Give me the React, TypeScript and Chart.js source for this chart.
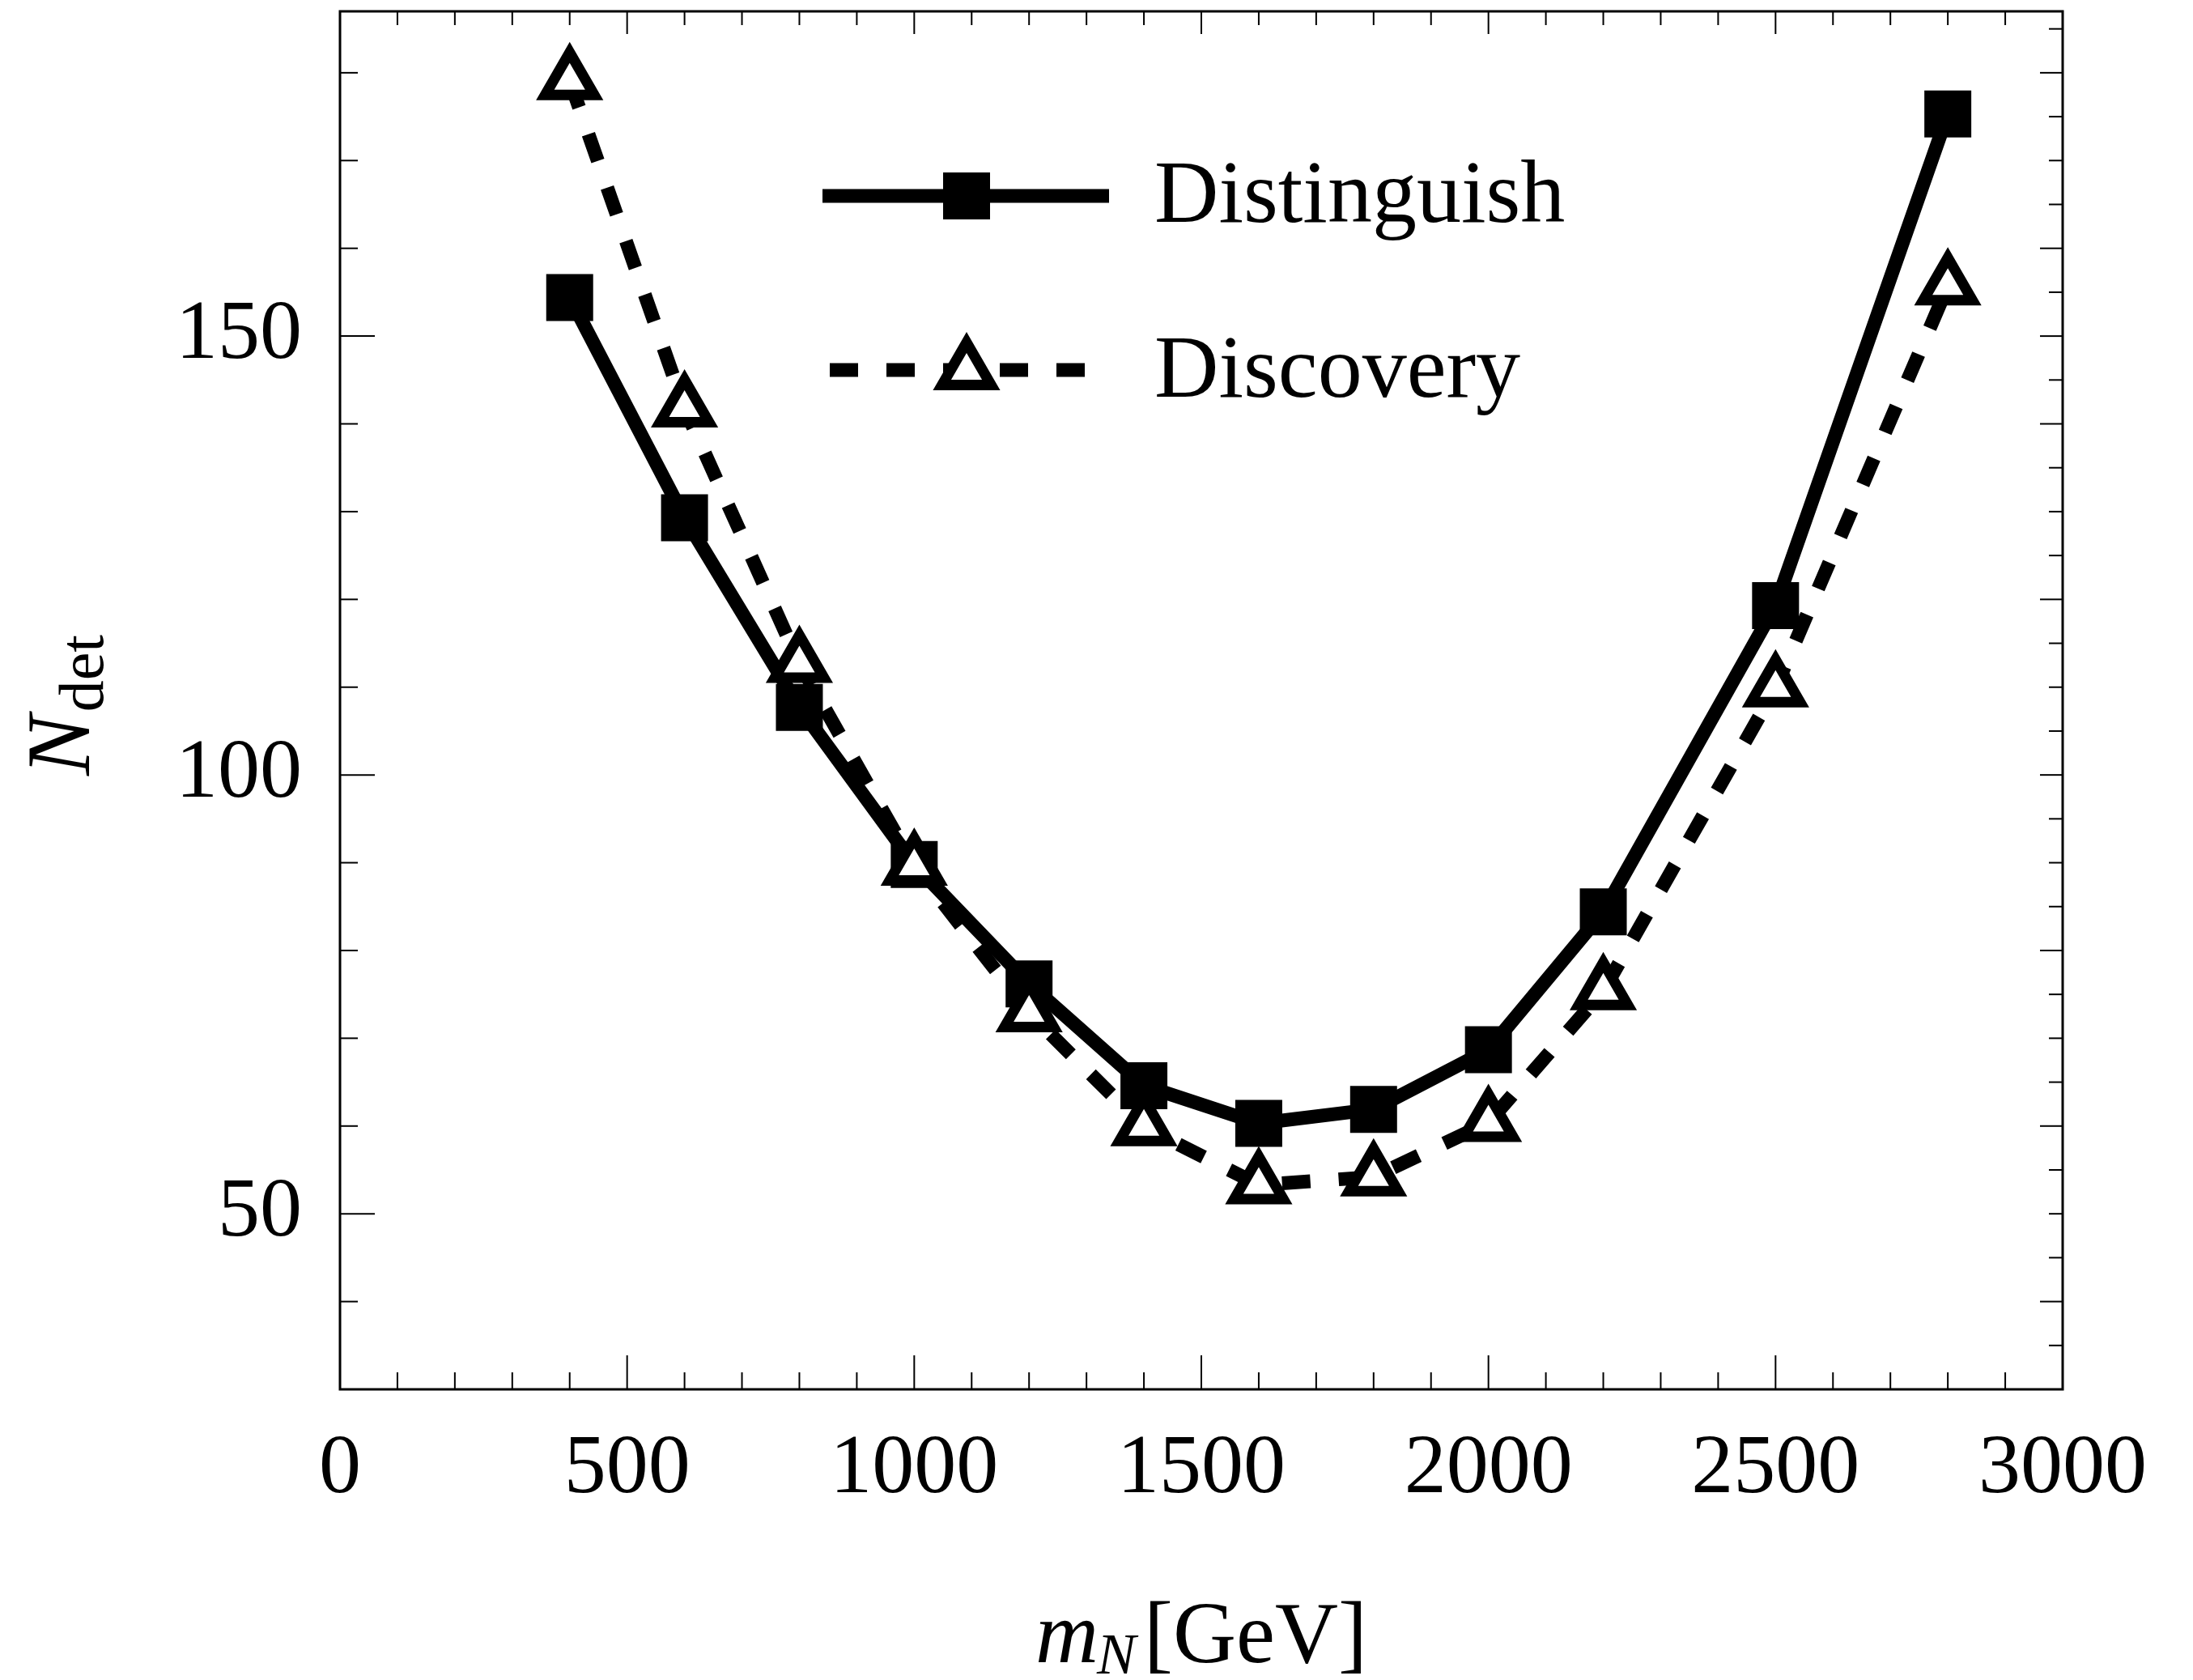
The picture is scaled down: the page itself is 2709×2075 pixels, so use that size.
import React, { useEffect, useRef } from 'react';
import { Chart, registerables } from 'chart.js';

Chart.register(...registerables);

// ---- data ----
const massGeV = [400, 600, 800, 1000, 1200, 1400, 1600, 1800, 2000, 2200, 2500, 2800];
const distinguish = [154.4, 129.3, 107.7, 89.8, 76.2, 64.6, 60.3, 61.9, 68.7, 84.4, 119.3, 175.3];
const discovery = [179.1, 141.8, 112.7, 89.6, 72.9, 59.9, 53.3, 54.2, 60.4, 75.4, 109.9, 155.7];
const seriesLabels = ['Distinguish', 'Discovery'];
const xTickLabels = [0, 500, 1000, 1500, 2000, 2500, 3000];
const yTickLabels = [50, 100, 150];
const yRightMajor = [40, 60, 80, 100, 120, 140, 150, 160, 180];
const xRange = [0, 3000];
const yRange = [30, 187];

const SERIF = '"Liberation Serif", "Times New Roman", serif';

const W = 2709;
const H = 2075;
const PLOT = { left: 420, right: 2548, top: 14, bottom: 1716 };

function seg(ctx: CanvasRenderingContext2D, x1: number, y1: number, x2: number, y2: number) {
  ctx.beginPath();
  ctx.moveTo(x1, y1);
  ctx.lineTo(x2, y2);
  ctx.stroke();
}

const framePlugin = {
  id: 'frameTicks',
  beforeDatasetsDraw(chart: any) {
    const { ctx, chartArea: a, scales } = chart;
    const x = scales.x;
    const y = scales.y;
    ctx.save();
    ctx.strokeStyle = '#000';
    ctx.lineWidth = 2;
    ctx.lineCap = 'butt';
    for (let v = xRange[0] + 100; v < xRange[1]; v += 100) {
      const px = x.getPixelForValue(v);
      const major = v % 500 === 0;
      seg(ctx, px, a.bottom, px, a.bottom - (major ? 42 : 21));
      seg(ctx, px, a.top, px, a.top + (major ? 28 : 17));
    }
    for (let v = 40; v <= 180; v += 10) {
      const py = y.getPixelForValue(v);
      const major = yTickLabels.includes(v);
      seg(ctx, a.left, py, a.left + (major ? 43 : 22), py);
    }
    for (let v = 35; v <= 185; v += 5) {
      const py = y.getPixelForValue(v);
      const major = yRightMajor.includes(v);
      seg(ctx, a.right, py, a.right - (major ? 28 : 17), py);
    }
    ctx.lineWidth = 3;
    ctx.strokeRect(a.left, a.top, a.right - a.left, a.bottom - a.top);
    ctx.restore();
  },
};

function drawSquare(ctx: CanvasRenderingContext2D, cx: number, cy: number, r: number) {
  const s = Math.SQRT1_2 * r;
  ctx.fillStyle = '#000';
  ctx.fillRect(cx - s, cy - s, 2 * s, 2 * s);
}

function drawTriangle(ctx: CanvasRenderingContext2D, cx: number, cy: number, r: number, bw: number) {
  ctx.beginPath();
  let rad = 0;
  for (let i = 0; i < 3; i++) {
    const px = cx + Math.sin(rad) * r;
    const py = cy - Math.cos(rad) * r;
    if (i === 0) ctx.moveTo(px, py);
    else ctx.lineTo(px, py);
    rad += (2 * Math.PI) / 3;
  }
  ctx.closePath();
  ctx.fillStyle = '#fff';
  ctx.fill();
  ctx.lineWidth = bw;
  ctx.strokeStyle = '#000';
  ctx.lineJoin = 'miter';
  ctx.stroke();
}

const textPlugin = {
  id: 'textDecor',
  afterDraw(chart: any) {
    const { ctx, chartArea: a, data } = chart;
    ctx.save();
    ctx.fillStyle = '#000';
    ctx.textBaseline = 'alphabetic';
    ctx.textAlign = 'left';

    // ---- legend ----
    const ds0 = data.datasets[0];
    const ds1 = data.datasets[1];
    ctx.strokeStyle = '#000';
    ctx.lineWidth = ds0.borderWidth;
    ctx.lineCap = 'butt';
    ctx.setLineDash([]);
    seg(ctx, 1016, 242, 1370, 242);
    drawSquare(ctx, 1194, 242, ds0.pointRadius);
    ctx.lineWidth = ds1.borderWidth;
    ctx.setLineDash(ds1.borderDash);
    seg(ctx, 1025, 457, 1344, 457);
    ctx.setLineDash([]);
    drawTriangle(ctx, 1194, 458, ds1.pointRadius, ds1.pointBorderWidth);
    ctx.fillStyle = '#000';
    ctx.font = `110px ${SERIF}`;
    ctx.fillText(ds0.label, 1426, 274);
    ctx.fillText(ds1.label, 1426, 490);

    // ---- x axis title: m_N[GeV] ----
    const big = 108;
    const small = 72;
    ctx.font = `italic ${big}px ${SERIF}`;
    const wm = ctx.measureText('m').width;
    ctx.font = `italic ${small}px ${SERIF}`;
    const wN = ctx.measureText('N').width;
    ctx.font = `${big}px ${SERIF}`;
    const wG = ctx.measureText('[GeV]').width;
    const total = wm + wN + 8 + wG;
    let sx = (a.left + a.right) / 2 - total / 2;
    ctx.font = `italic ${big}px ${SERIF}`;
    ctx.fillText('m', sx, 2053);
    sx += wm;
    ctx.font = `italic ${small}px ${SERIF}`;
    ctx.fillText('N', sx - 2, 2067);
    sx += wN + 8;
    ctx.font = `${big}px ${SERIF}`;
    ctx.fillText('[GeV]', sx, 2053);

    // ---- y axis title: N_det ----
    ctx.save();
    ctx.translate(110, 871);
    ctx.rotate(-Math.PI / 2);
    ctx.font = `italic 112px ${SERIF}`;
    const wNy = ctx.measureText('N').width;
    ctx.font = `78px ${SERIF}`;
    const wdet = ctx.measureText('det').width;
    const ty = wNy + wdet + 4;
    let st = -ty / 2;
    ctx.font = `italic 112px ${SERIF}`;
    ctx.fillText('N', st, 0);
    st += wNy + 4;
    ctx.font = `78px ${SERIF}`;
    ctx.fillText('det', st, 17);
    ctx.restore();

    ctx.restore();
  },
};

export default function App() {
  const ref = useRef<HTMLCanvasElement | null>(null);

  useEffect(() => {
    if (!ref.current) return;
    const chart = new Chart(ref.current, {
      type: 'line',
      data: {
        datasets: [
          {
            label: seriesLabels[0],
            data: massGeV.map((m, i) => ({ x: m, y: distinguish[i] })),
            borderColor: '#000',
            backgroundColor: '#000',
            borderWidth: 17,
            borderJoinStyle: 'round',
            pointStyle: 'rect',
            pointRadius: 41,
            pointBackgroundColor: '#000',
            pointBorderColor: '#000',
            pointBorderWidth: 0,
            tension: 0,
            order: 2,
          } as any,
          {
            label: seriesLabels[1],
            data: massGeV.map((m, i) => ({ x: m, y: discovery[i] })),
            borderColor: '#000',
            backgroundColor: '#fff',
            borderWidth: 17,
            borderDash: [35, 35],
            borderCapStyle: 'butt',
            pointStyle: 'triangle',
            pointRadius: 35,
            pointBackgroundColor: '#fff',
            pointBorderColor: '#000',
            pointBorderWidth: 13,
            tension: 0,
            order: 1,
          } as any,
        ],
      },
      options: {
        responsive: false,
        animation: false,
        devicePixelRatio: 1,
        events: [],
        layout: {
          autoPadding: false,
          padding: { left: 0, right: W - PLOT.right, top: PLOT.top, bottom: 0 },
        },
        scales: {
          x: {
            type: 'linear',
            min: xRange[0],
            max: xRange[1],
            afterBuildTicks: (s: any) => {
              s.ticks = xTickLabels.map((v) => ({ value: v }));
            },
            afterFit: (s: any) => {
              s.height = H - PLOT.bottom;
              s.paddingLeft = 0;
              s.paddingRight = 0;
              s.paddingTop = 0;
              s.paddingBottom = 0;
            },
            grid: { display: false },
            border: { display: false },
            ticks: {
              autoSkip: false,
              maxRotation: 0,
              padding: 29,
              color: '#000',
              font: { family: SERIF, size: 104 },
              callback: (v: any) => String(v),
            },
          },
          y: {
            type: 'linear',
            min: yRange[0],
            max: yRange[1],
            afterBuildTicks: (s: any) => {
              s.ticks = yTickLabels.map((v) => ({ value: v }));
            },
            afterFit: (s: any) => {
              s.width = PLOT.left;
              s.paddingTop = 0;
              s.paddingBottom = 0;
              s.paddingLeft = 0;
              s.paddingRight = 0;
            },
            grid: { display: false },
            border: { display: false },
            ticks: {
              autoSkip: false,
              padding: 39,
              color: '#000',
              font: { family: SERIF, size: 104 },
              callback: (v: any) => String(v),
            },
          },
        },
        plugins: {
          legend: { display: false },
          tooltip: { enabled: false },
          title: { display: false },
        },
      } as any,
      plugins: [framePlugin, textPlugin],
    });
    return () => chart.destroy();
  }, []);

  return (
    <div style={{ position: 'fixed', left: 0, top: 0, width: W, height: H, background: '#fff' }}>
      <canvas ref={ref} width={W} height={H} style={{ width: W, height: H, display: 'block' }} />
    </div>
  );
}
